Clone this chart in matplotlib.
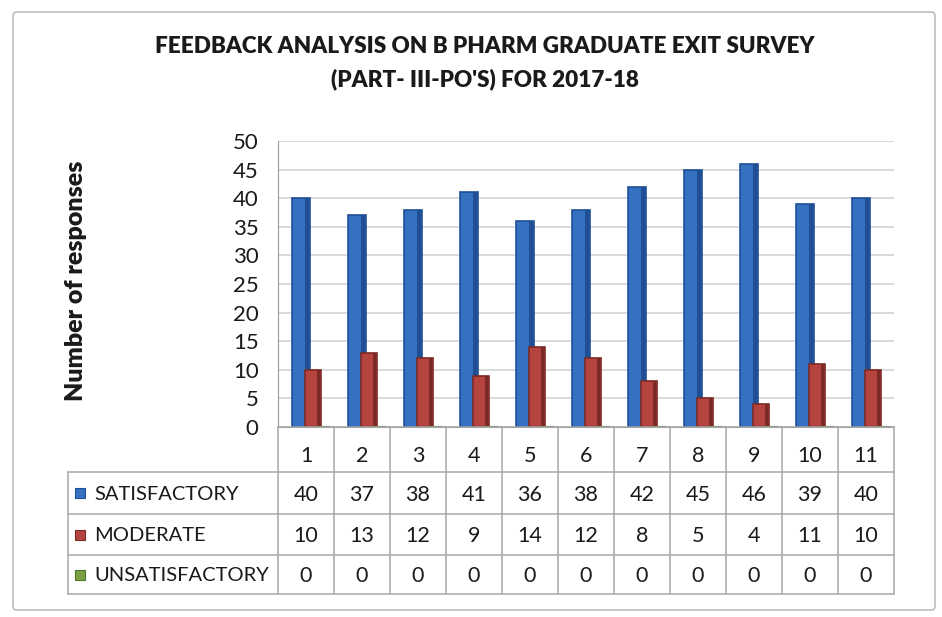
import matplotlib
matplotlib.use("Agg")
import matplotlib.pyplot as plt
from matplotlib.patches import Rectangle, FancyBboxPatch
import numpy as np

categories = ["1", "2", "3", "4", "5", "6", "7", "8", "9", "10", "11"]
satisfactory = [40, 37, 38, 41, 36, 38, 42, 45, 46, 39, 40]
moderate = [10, 13, 12, 9, 14, 12, 8, 5, 4, 11, 10]
unsatisfactory = [0, 0, 0, 0, 0, 0, 0, 0, 0, 0, 0]
series_names = ["SATISFACTORY", "MODERATE", "UNSATISFACTORY"]
title = "FEEDBACK ANALYSIS ON B PHARM GRADUATE EXIT SURVEY\n(PART- III-PO'S) FOR 2017-18"
ylabel = "Number of responses"
yticks = [0, 5, 10, 15, 20, 25, 30, 35, 40, 45, 50]

W, H = 942, 617
fig = plt.figure(figsize=(W / 100, H / 100), dpi=100)
fig.patch.set_facecolor("white")
FONT = "Lato"
TXT = "#1a1a1a"

def fx(px):
    return px / W

def fy(py):
    return 1 - py / H

# outer chart border
bg = fig.add_axes([0, 0, 1, 1], zorder=0)
bg.set_xlim(0, W)
bg.set_ylim(H, 0)
bg.axis("off")
bg.add_patch(FancyBboxPatch((13, 12), 922, 598, boxstyle="round,pad=0,rounding_size=4",
                            fill=False, edgecolor="#bdbdbd", lw=1.2))

# main plot
ax_l, ax_r = 278, 894
ax_t, ax_b = 141, 427
ax = fig.add_axes([fx(ax_l), fy(ax_b), fx(ax_r - ax_l), (ax_b - ax_t) / H], zorder=2)
x = np.arange(1, len(categories) + 1)
colors = {"sat": "#3670c0", "sat_e": "#1f4f95",
          "mod": "#b6443e", "mod_e": "#7c2a26",
          "uns": "#7aa043", "uns_e": "#4f7526"}
ax.bar(x - 0.09, satisfactory, width=0.33, color=colors["sat"], edgecolor=colors["sat_e"], lw=1.2, zorder=3)
ax.bar(x + 0.01, satisfactory, width=0.07, color=colors["sat_e"], lw=0, zorder=3.5)
ax.bar(x + 0.12, moderate, width=0.28, color=colors["mod"], edgecolor=colors["mod_e"], lw=1.2, zorder=4)
ax.bar(x + 0.22, moderate, width=0.06, color=colors["mod_e"], lw=0, zorder=4.5)
ax.bar(x + 0.30, unsatisfactory, width=0.26, color=colors["uns"], edgecolor=colors["uns_e"], lw=1.5, zorder=5)
ax.set_xlim(0.5, len(categories) + 0.5)
ax.set_ylim(0, 50)
ax.set_yticks(yticks)
ax.set_yticklabels([str(t) for t in yticks], fontsize=16, family=FONT, color=TXT)
ax.tick_params(axis="y", length=0, pad=14)
ax.set_xticks([])
for t in yticks:
    ax.axhline(t, color="#cfcfcf", lw=1.1, zorder=1)
for s in ["top", "right"]:
    ax.spines[s].set_visible(False)
ax.spines["left"].set_color("#9a9a9a")
ax.spines["bottom"].set_color("#9a9a9a")
ax.set_facecolor("white")

fig.text(fx(76), fy(281), ylabel, rotation=90, ha="center", va="center", fontsize=18,
         fontweight="heavy", family=FONT, color=TXT)

# title
fig.text(fx(485), fy(63), title, ha="center", va="center", fontsize=16.2, fontweight="heavy",
         family=FONT, color=TXT, linespacing=1.6)

# data table
tab = fig.add_axes([0, 0, 1, 1], zorder=3)
tab.set_xlim(0, W)
tab.set_ylim(H, 0)
tab.axis("off")
lc = "#a8a8a8"
col_w = (ax_r - ax_l) / len(categories)
row_edges = [427, 472, 514, 555, 594]
left = 68
tab.plot([ax_l, ax_r], [row_edges[0], row_edges[0]], color=lc, lw=1.1)
for ry in row_edges[1:]:
    tab.plot([left, ax_r], [ry, ry], color=lc, lw=1.1)
for i in range(len(categories) + 1):
    xx = ax_l + i * col_w
    tab.plot([xx, xx], [row_edges[0], row_edges[-1]], color=lc, lw=1.1)
tab.plot([left, left], [row_edges[1], row_edges[-1]], color=lc, lw=1.1)

rows = [satisfactory, moderate, unsatisfactory]
swatch = [colors["sat"], colors["mod"], colors["uns"]]
swatch_e = [colors["sat_e"], colors["mod_e"], colors["uns_e"]]
txt_kw = dict(fontsize=15.5, family=FONT, color=TXT, va="center", ha="center")
for i, c in enumerate(categories):
    cx = ax_l + (i + 0.5) * col_w
    tab.text(cx, (row_edges[0] + row_edges[1]) / 2 + 7, c, **txt_kw)
    for r, vals in enumerate(rows):
        cy = (row_edges[r + 1] + row_edges[r + 2]) / 2 + 2
        tab.text(cx, cy, str(vals[i]), **txt_kw)
for r, name in enumerate(series_names):
    cy = (row_edges[r + 1] + row_edges[r + 2]) / 2
    tab.add_patch(Rectangle((75, cy - 5), 10, 10, facecolor=swatch[r], edgecolor=swatch_e[r], lw=0.8))
    tab.text(94, cy + 1, name, fontsize=14.5, family=FONT, color=TXT, va="center", ha="left")

fig.savefig("out.png", dpi=100, facecolor="white")
